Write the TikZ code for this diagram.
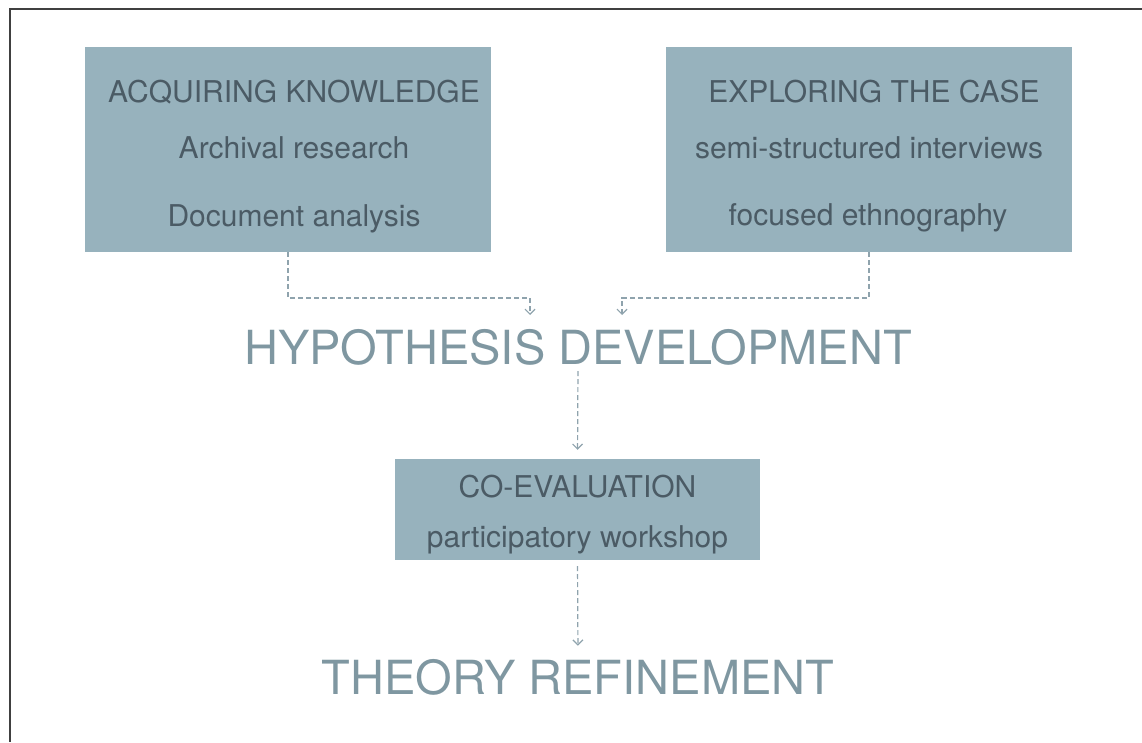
\documentclass[tikz,border=0pt]{standalone}
\usepackage{xcolor}
\usepackage{fontspec}
\setmainfont{TeX Gyre Heros}
\usepackage{tikz}
\usetikzlibrary{arrows.meta}
\definecolor{boxfill}{HTML}{97B2BD}
\definecolor{boxtext}{HTML}{4B5B65}
\definecolor{bigtext}{HTML}{7F97A1}
\definecolor{dashline}{HTML}{8FA3AD}
\tikzset{
    stage/.style={fill=boxfill, draw=none, inner sep=0pt},
    boxline/.style={text=boxtext, font=\fontsize{30}{36}\selectfont, anchor=base, inner sep=0pt},
    headline/.style={text=bigtext, font=\fontsize{47}{56}\selectfont, anchor=base, inner sep=0pt},
    flow/.style={draw=dashline, line width=1.2pt, dash pattern=on 5pt off 3pt,
        -{Straight Barb[length=5pt,width=10pt]}}
}

\begin{document}
\begin{tikzpicture}[x=1pt,y=-1pt]
        \useasboundingbox (0,0) rectangle (1142,742);
        \draw[line width=1.7pt, draw=black!75] (1142,9) -- (10,9) -- (10,742);

        \node[stage, minimum width=406pt, minimum height=205pt] (acq) at (288,149.5) {};
        \node[stage, minimum width=406pt, minimum height=205pt] (exp) at (869,149.5) {};
        \node[stage, minimum width=365pt, minimum height=101pt] (coev) at (577.5,509.5) {};

        \node[boxline] (acqA) at (294,102) {ACQUIRING KNOWLEDGE};
        \node[boxline] (acqB) at (294,158) {Archival research};
        \node[boxline] (acqC) at (294,226) {Document analysis};

        \node[boxline] (expA) at (874,102) {EXPLORING THE CASE};
        \node[boxline] (expB) at (869,158) {semi-structured interviews};
        \node[boxline] (expC) at (868,225) {focused ethnography};

        \node[boxline] (coevA) at (577.5,497) {CO-EVALUATION};
        \node[boxline] (coevB) at (577.5,547) {participatory workshop};

        \node[headline] (hyp) at (578,364) {HYPOTHESIS DEVELOPMENT};
        \node[headline] (theo) at (578,694) {THEORY REFINEMENT};

        \coordinate (inL) at (530,315);
        \coordinate (inR) at (622,315);

        \draw[flow] (acq.south) |- ([yshift=17pt]inL) -- (inL);
        \draw[flow] (exp.south) |- ([yshift=17pt]inR) -- (inR);
        \draw[flow, shorten <=6pt, shorten >=9pt] (hyp.south) -- (coev.north);
        \draw[flow, shorten <=6pt, shorten >=13pt] (coev.south) -- (theo.north);
    \end{tikzpicture}
\end{document}
